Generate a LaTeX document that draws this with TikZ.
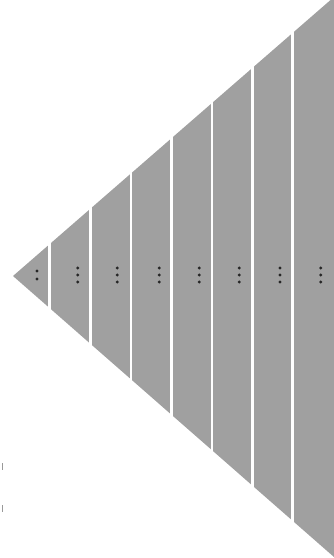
\documentclass[tikz,border=0pt]{standalone}
\definecolor{layergray}{RGB}{160,160,160}
\tikzset{layer/.style={fill=layergray}, unit/.style={fill=black!85}}
\begin{document}
\begin{tikzpicture}[x=1pt,y=-1pt]
  \useasboundingbox (0,0) rectangle (333,558);
  \begin{scope}
    \clip (13,276) -- (334,-3) -- (334,557) -- cycle;
    \foreach \l/\r in {0/48.2,50.8/89.4,92/129.7,132.3/170.4,173/210.7,213.3/251.4,254/291.4,294/334}
      \fill[layer] (\l,0) rectangle (\r,558);
  \end{scope}
  \fill[unit] (37,271) circle (1.6);
  \fill[unit] (37,279) circle (1.6);
  \foreach \x in {77.7,117.3,159.3,199.3,239.3,280,320.7}
    \foreach \y in {268,275,282}
      \fill[unit] (\x,\y) circle (1.6);
  \fill[black!40] (2,463) rectangle (3.2,470);
  \fill[black!40] (2,505) rectangle (3.2,512);
\end{tikzpicture}
\end{document}
